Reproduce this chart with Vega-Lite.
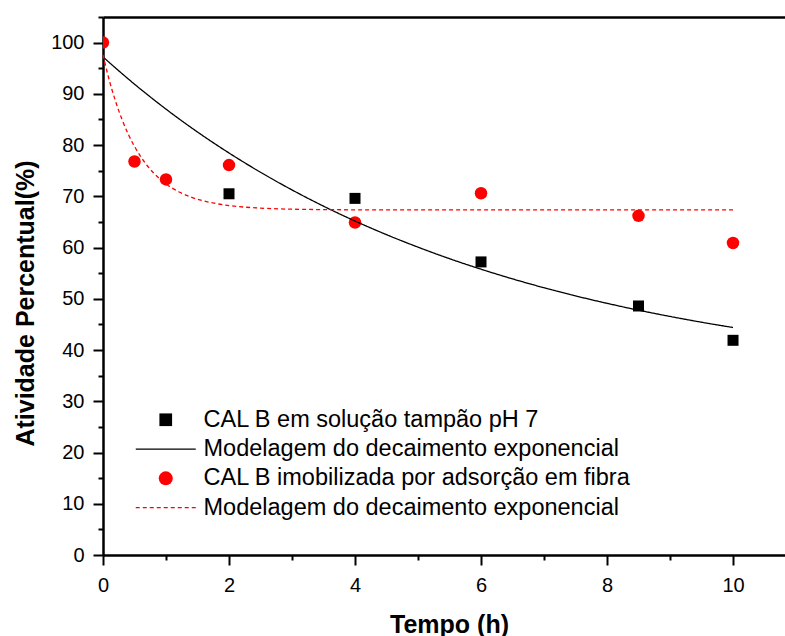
{
  "$schema": "https://vega.github.io/schema/vega-lite/v6.json",
  "width": 682,
  "height": 538,
  "autosize": {"type": "none"},
  "padding": {"left": 103, "top": 17, "right": 0, "bottom": 81},
  "background": "white",
  "config": {
    "view": {"stroke": null},
    "font": "Liberation Sans",
    "axis": {
      "grid": false,
      "domainColor": "black",
      "domainWidth": 2.5,
      "tickColor": "black",
      "tickWidth": 2,
      "labelFont": "Liberation Sans",
      "labelFontSize": 20,
      "labelColor": "black",
      "titleFont": "Liberation Sans",
      "titleFontSize": 25,
      "titleFontWeight": "bold",
      "titleColor": "black",
      "labelFlush": false,
      "labelOverlap": false
    }
  },
  "datasets": {
    "pontos": [
      {"x": 2, "y": 70.5, "serie": "a"},
      {"x": 4, "y": 69.6, "serie": "a"},
      {"x": 6, "y": 57.2, "serie": "a"},
      {"x": 8.5, "y": 48.6, "serie": "a"},
      {"x": 10, "y": 41.9, "serie": "a"},
      {"x": 0, "y": 100, "serie": "c"},
      {"x": 0.5, "y": 76.8, "serie": "c"},
      {"x": 1, "y": 73.3, "serie": "c"},
      {"x": 2, "y": 76.1, "serie": "c"},
      {"x": 4, "y": 64.9, "serie": "c"},
      {"x": 6, "y": 70.6, "serie": "c"},
      {"x": 8.5, "y": 66.2, "serie": "c"},
      {"x": 10, "y": 60.9, "serie": "c"}
    ],
    "curvas": [
      {"x": 0, "y": 97.2, "serie": "b"},
      {"x": 0.5, "y": 91.89, "serie": "b"},
      {"x": 1, "y": 87.02, "serie": "b"},
      {"x": 1.5, "y": 82.55, "serie": "b"},
      {"x": 2, "y": 78.46, "serie": "b"},
      {"x": 2.5, "y": 74.7, "serie": "b"},
      {"x": 3, "y": 71.25, "serie": "b"},
      {"x": 3.5, "y": 68.08, "serie": "b"},
      {"x": 4, "y": 65.18, "serie": "b"},
      {"x": 4.5, "y": 62.52, "serie": "b"},
      {"x": 5, "y": 60.08, "serie": "b"},
      {"x": 5.5, "y": 57.83, "serie": "b"},
      {"x": 6, "y": 55.78, "serie": "b"},
      {"x": 6.5, "y": 53.89, "serie": "b"},
      {"x": 7, "y": 52.16, "serie": "b"},
      {"x": 7.5, "y": 50.57, "serie": "b"},
      {"x": 8, "y": 49.12, "serie": "b"},
      {"x": 8.5, "y": 47.78, "serie": "b"},
      {"x": 9, "y": 46.56, "serie": "b"},
      {"x": 9.5, "y": 45.43, "serie": "b"},
      {"x": 10, "y": 44.4, "serie": "b"},
      {"x": 0, "y": 97.6, "serie": "d"},
      {"x": 0.1, "y": 92.65, "serie": "d"},
      {"x": 0.2, "y": 88.52, "serie": "d"},
      {"x": 0.3, "y": 85.06, "serie": "d"},
      {"x": 0.4, "y": 82.16, "serie": "d"},
      {"x": 0.5, "y": 79.74, "serie": "d"},
      {"x": 0.6, "y": 77.71, "serie": "d"},
      {"x": 0.7, "y": 76.02, "serie": "d"},
      {"x": 0.8, "y": 74.6, "serie": "d"},
      {"x": 0.9, "y": 73.42, "serie": "d"},
      {"x": 1.0, "y": 72.42, "serie": "d"},
      {"x": 1.2, "y": 70.9, "serie": "d"},
      {"x": 1.4, "y": 69.83, "serie": "d"},
      {"x": 1.6, "y": 69.09, "serie": "d"},
      {"x": 1.8, "y": 68.57, "serie": "d"},
      {"x": 2.0, "y": 68.2, "serie": "d"},
      {"x": 2.5, "y": 67.7, "serie": "d"},
      {"x": 3.0, "y": 67.49, "serie": "d"},
      {"x": 3.5, "y": 67.41, "serie": "d"},
      {"x": 4, "y": 67.37, "serie": "d"},
      {"x": 5, "y": 67.35, "serie": "d"},
      {"x": 6, "y": 67.35, "serie": "d"},
      {"x": 7, "y": 67.35, "serie": "d"},
      {"x": 8, "y": 67.35, "serie": "d"},
      {"x": 9, "y": 67.35, "serie": "d"},
      {"x": 10, "y": 67.35, "serie": "d"}
    ]
  },
  "encoding": {
    "y": {
      "field": "y",
      "type": "quantitative",
      "scale": {"domain": [0, 105], "nice": false, "zero": true},
      "axis": {
        "values": [0, 5, 10, 15, 20, 25, 30, 35, 40, 45, 50, 55, 60, 65, 70, 75, 80, 85, 90, 95, 100, 105],
        "labelExpr": "datum.value % 10 === 0 ? datum.label : ''",
        "tickSize": {"condition": {"test": "datum.value % 10 === 0", "value": 10}, "value": 5},
        "labelPadding": 9,
        "title": "Atividade Percentual(%)",
        "titleX": -70,
        "titleY": 286,
        "titleBaseline": "alphabetic",
        "titleAngle": -90
      }
    },
    "color": {
      "field": "serie",
      "type": "nominal",
      "scale": {"domain": ["a", "b", "c", "d"], "range": ["black", "black", "#ff0000", "#ff0000"]},
      "legend": {
        "orient": "none",
        "legendX": 51,
        "legendY": 391,
        "title": null,
        "padding": 0,
        "labelExpr": "datum.value === 'a' ? 'CAL B em solução tampão pH 7' : datum.value === 'c' ? 'CAL B imobilizada por adsorção em fibra' : 'Modelagem do decaimento exponencial'",
        "labelFont": "Liberation Sans",
        "labelFontSize": 23.5,
        "labelColor": "black",
        "labelLimit": 0,
        "labelOffset": 26,
        "symbolSize": 160,
        "symbolStrokeWidth": 1.3,
        "rowPadding": 4.3,
        "encode": {
          "symbols": {
            "update": {
              "shape": {"signal": "datum.value === 'a' ? 'square' : datum.value === 'c' ? 'circle' : 'stroke'"},
              "size": {"signal": "datum.value === 'a' ? 161 : datum.value === 'c' ? 196 : 3600"},
              "fill": {"signal": "datum.value === 'a' ? 'black' : datum.value === 'c' ? '#ff0000' : 'transparent'"},
              "stroke": {"signal": "datum.value === 'a' || datum.value === 'b' ? 'black' : '#ff0000'"},
              "strokeWidth": {"signal": "datum.value === 'a' || datum.value === 'c' ? 0 : 1.2"},
              "strokeDash": {"signal": "datum.value === 'd' ? [4, 3] : [1, 0]"},
              "opacity": {"value": 1}
            }
          }
        }
      }
    }
  },
  "layer": [
    {
      "data": {"name": "pontos"},
      "mark": {"type": "point", "filled": true, "opacity": 1, "strokeWidth": 0, "clip": true},
      "encoding": {
        "x": {
          "field": "x",
          "type": "quantitative",
          "scale": {"domain": [0, 10.825], "nice": false, "zero": true},
          "axis": {
            "orient": "bottom",
            "values": [0, 1, 2, 3, 4, 5, 6, 7, 8, 9, 10],
            "labelExpr": "datum.value % 2 === 0 ? datum.label : ''",
            "tickSize": {"condition": {"test": "datum.value % 2 === 0", "value": 10}, "value": 5},
            "labelPadding": 10,
            "title": "Tempo (h)",
            "titleX": 346,
            "titleY": 77,
            "titleBaseline": "alphabetic"
          }
        },
        "shape": {
          "field": "serie",
          "type": "nominal",
          "scale": {"domain": ["a", "c"], "range": ["square", "circle"]},
          "legend": null
        },
        "size": {
          "field": "serie",
          "type": "nominal",
          "scale": {"domain": ["a", "c"], "range": [121, 156]},
          "legend": null
        }
      }
    },
    {
      "data": {"name": "curvas"},
      "mark": {"type": "line", "strokeWidth": 1.3, "interpolate": "monotone"},
      "encoding": {
        "x": {
          "field": "x",
          "type": "quantitative",
          "scale": {"domain": [0, 10.825], "nice": false, "zero": true},
          "axis": {
            "orient": "top",
            "ticks": false,
            "labels": false,
            "domain": true,
            "title": null,
            "domainWidth": 2.5
          }
        },
        "strokeDash": {
          "field": "serie",
          "type": "nominal",
          "scale": {"domain": ["b", "d"], "range": [[1, 0], [4, 3]]},
          "legend": null
        }
      }
    }
  ],
  "resolve": {"axis": {"x": "independent"}}
}
